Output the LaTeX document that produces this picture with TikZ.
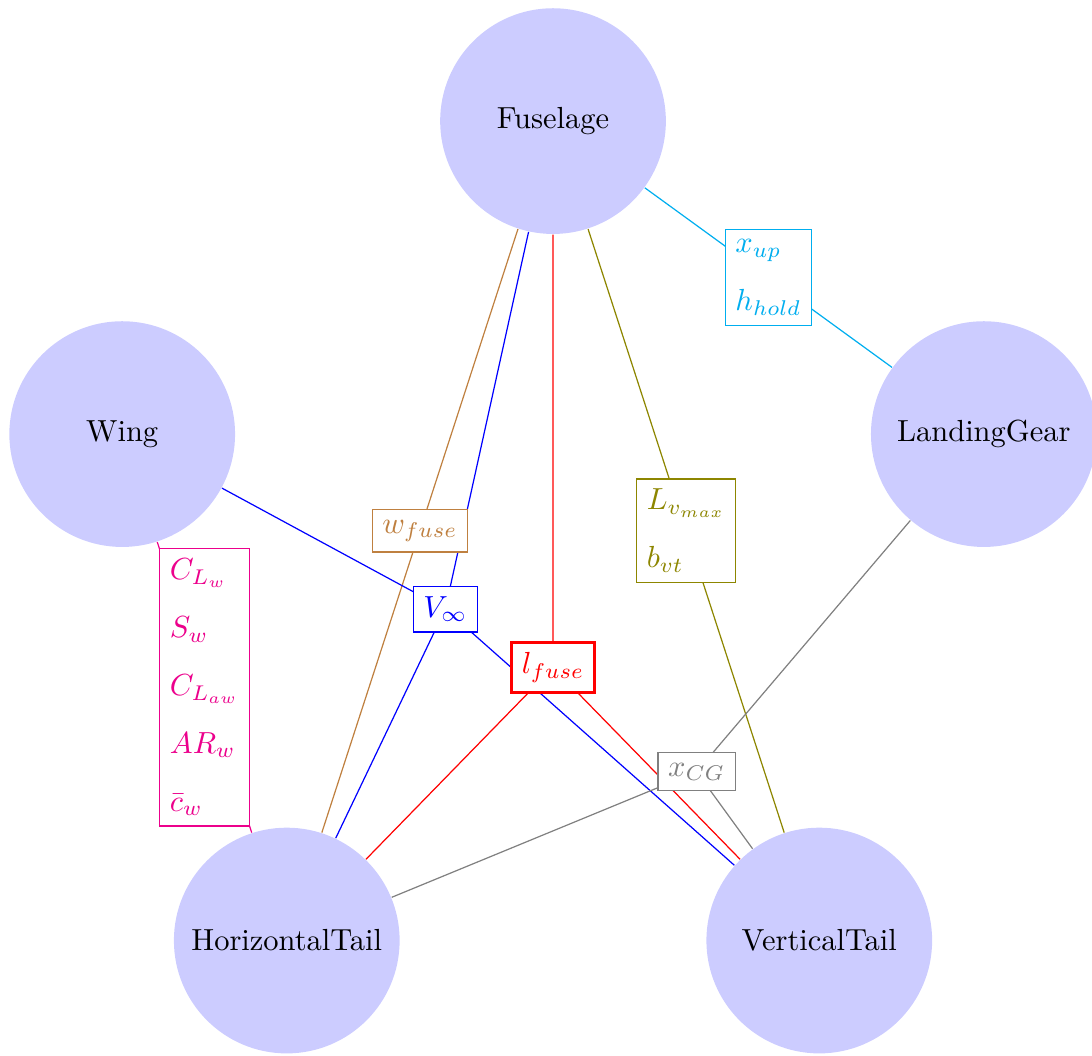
\documentclass[tikz,border=0pt]{standalone}
\usepackage{amsmath}
\usepackage{amssymb}
\usepackage{tikz}
\usetikzlibrary{calc}
\definecolor{gearcyan}{RGB}{0,174,239}
\definecolor{wingmagenta}{RGB}{236,0,140}
\tikzstyle{discipline} = [circle, fill=blue!20, minimum size=74pt, inner sep=0pt]
\tikzstyle{shared} = [rectangle, fill=white, align=left]
\tikzstyle{link} = [thin]

\begin{document}
\begin{tikzpicture}[node distance = 10mm, auto]
	\useasboundingbox (-181.3pt,-157.7pt) rectangle (176.7pt,188.2pt);
	\node (Fuselage) [discipline] at (90:148.5pt) {Fuselage};
	\node (LandingGear) [discipline] at (18:148.5pt) {LandingGear};
	\node (VerticalTail) [discipline] at (-54:148.5pt) {VerticalTail};
	\node (HorizontalTail) [discipline] at (234:148.5pt) {HorizontalTail};
	\node (Wing) [discipline] at (162:148.5pt) {Wing};
	% where the shared variables sit
	\coordinate (gear) at ($(Fuselage)!0.5!(LandingGear)$);
	\coordinate (width) at ($(Fuselage)!0.5!(HorizontalTail)$);
	\coordinate (fin) at ($(Fuselage)!0.5!(VerticalTail)$);
	\coordinate (wing) at ($(Wing)!0.5!(HorizontalTail)$);
	\coordinate (speed) at ($0.25*(Fuselage)+0.25*(Wing)+0.25*(HorizontalTail)+0.25*(VerticalTail)$);
	\coordinate (length) at ($0.3333*(Fuselage)+0.3333*(HorizontalTail)+0.3334*(VerticalTail)$);
	\coordinate (cg) at ($0.3333*(LandingGear)+0.3333*(HorizontalTail)+0.3334*(VerticalTail)$);
	\draw [link, gearcyan] (Fuselage) -- (gear) -- (LandingGear);
	\draw [link, brown] (Fuselage) -- (width) -- (HorizontalTail);
	\draw [link, olive] (Fuselage) -- (fin) -- (VerticalTail);
	\draw [link, wingmagenta] (Wing) -- (wing) -- (HorizontalTail);
	\draw [link, blue] (Fuselage) -- (speed) -- (HorizontalTail);
	\draw [link, blue] (Wing) -- (speed) -- (VerticalTail);
	\draw [link, red] (Fuselage) -- (length) -- (HorizontalTail);
	\draw [link, red] (length) -- (VerticalTail);
	\draw [link, gray] (LandingGear) -- (cg) -- (HorizontalTail);
	\draw [link, gray] (cg) -- (VerticalTail);
	% shared variables between pairs of disciplines
	\node (GearVars) [shared, draw=gearcyan, text=gearcyan] at (gear) {$x_{up}$\\[7pt]$h_{hold}$};
	\node (FuseWidth) [shared, draw=brown, text=brown] at (width) {$w_{fuse}$};
	\node (FinVars) [shared, draw=olive, text=olive] at (fin) {$L_{v_{max}}$\\[7pt]$b_{vt}$};
	\node (WingVars) [shared, draw=wingmagenta, text=wingmagenta] at (wing) {$C_{L_w}$\\[7pt]$S_w$\\[7pt]$C_{L_{aw}}$\\[7pt]$AR_w$\\[7pt]$\bar{c}_w$};
	% shared variables between three or more
	\node (Speed) [shared, draw=blue, text=blue] at (speed) {$V_\infty$};
	\node (FuseLength) [shared, draw=red, text=red, thick] at (length) {$l_{fuse}$};
	\node (CG) [shared, draw=gray, text=gray] at (cg) {$x_{CG}$};
\end{tikzpicture}
\end{document}
